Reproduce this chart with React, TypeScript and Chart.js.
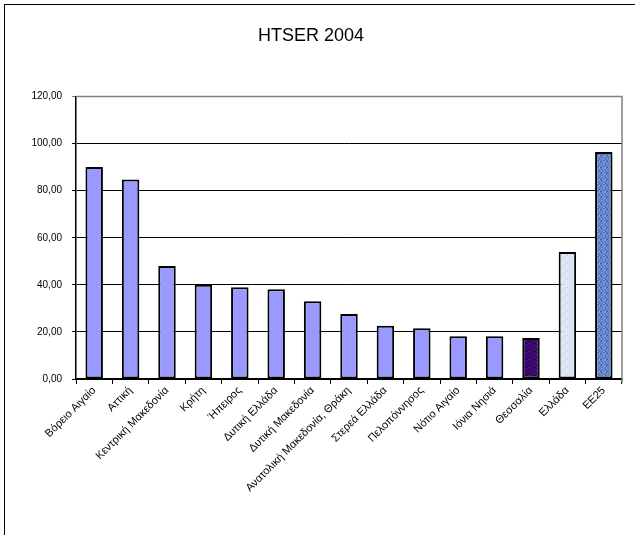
import React, { useEffect, useRef } from "react";
import { Chart, registerables } from "chart.js";

Chart.register(...registerables);

const categories = [
  "Βόρειο Αιγαίο",
  "Αττική",
  "Κεντρική Μακεδονία",
  "Κρήτη",
  "Ήπειρος",
  "Δυτική Ελλάδα",
  "Δυτική Μακεδονία",
  "Ανατολική Μακεδονία, Θράκη",
  "Στερεά Ελλάδα",
  "Πελοπόννησος",
  "Νότιο Αιγαίο",
  "Ιόνια Νησιά",
  "Θεσσαλία",
  "Ελλάδα",
  "ΕΕ25",
];

const values = [90.1, 84.8, 48.0, 40.0, 39.0, 38.1, 33.0, 27.6, 22.6, 21.6, 18.2, 18.2, 17.4, 54.0, 96.5];

const title = "HTSER 2004";
const yMax = 120;
const yStep = 20;

const FONT = "'Liberation Sans', Arial, sans-serif";

function makePattern(base: string, spots: string[], size: number) {
  const c = document.createElement("canvas");
  c.width = size;
  c.height = size;
  const ctx = c.getContext("2d")!;
  ctx.fillStyle = base;
  ctx.fillRect(0, 0, size, size);
  for (let i = 0; i < size; i++) {
    for (let j = 0; j < size; j++) {
      const k = (i * 7 + j * 13 + ((i * j) % 5)) % 9;
      if (k < spots.length) {
        ctx.fillStyle = spots[k];
        ctx.fillRect(i, j, 1, 1);
      }
    }
  }
  return ctx.createPattern(c, "repeat")!;
}

export default function App() {
  const ref = useRef<HTMLCanvasElement>(null);

  useEffect(() => {
    if (!ref.current) return;
    const defaultColor = "#9999FF";
    const thessaly = makePattern("#3a0a6e", ["#2a0055", "#4b1a80", "#300060"], 8);
    const greece = makePattern("#dfe8f8", ["#c8dcf0", "#f0dcf0", "#e8f0fc", "#d0e4f4"], 8);
    const eu = makePattern("#6f8fd0", ["#4a6cb4", "#9ab0e0", "#3d5ea8", "#5a7cc4"], 6);
    const colors = categories.map((_, i) =>
      i === 12 ? thessaly : i === 13 ? greece : i === 14 ? eu : defaultColor
    );

    const framePlugin = {
      id: "frame",
      afterDraw(chart: any) {
        const { ctx, chartArea } = chart;
        ctx.save();
        ctx.strokeStyle = "#808080";
        ctx.lineWidth = 1.5;
        ctx.beginPath();
        ctx.moveTo(chartArea.left, chartArea.top);
        ctx.lineTo(chartArea.right, chartArea.top);
        ctx.lineTo(chartArea.right, chartArea.bottom + 4);
        ctx.stroke();
        ctx.restore();
      },
    };

    const chart = new Chart(ref.current, {
      type: "bar",
      data: {
        labels: categories,
        datasets: [
          {
            data: values,
            backgroundColor: colors as any,
            borderColor: "#000000",
            borderWidth: 2,
            borderSkipped: false,
            barPercentage: 0.48,
            categoryPercentage: 1,
          },
        ],
      },
      options: {
        animation: false,
        responsive: false,
        maintainAspectRatio: false,
        layout: { padding: { left: 0, right: 13, top: 0, bottom: 0 } },
        plugins: {
          legend: { display: false },
          tooltip: { enabled: false },
          title: {
            display: true,
            text: title,
            color: "#000",
            font: { family: FONT, size: 18, weight: "normal" },
            padding: { top: 25, bottom: 50 },
          },
        },
        scales: {
          x: {
            offset: true,
            grid: {
              offset: true,
              drawOnChartArea: false,
              drawTicks: true,
              tickLength: 5,
              color: "#000",
              lineWidth: 1,
            },
            border: { color: "#000", width: 1.5 },
            ticks: {
              color: "#000",
              font: { family: FONT, size: 11 },
              minRotation: 45,
              maxRotation: 45,
              autoSkip: false,
              padding: 0,
            },
            afterFit(scale: any) {
              scale.height = 156;
            },
          },
          y: {
            min: 0,
            max: yMax,
            grid: {
              color: (ctx: any) => (ctx.tick && ctx.tick.value === yMax ? "#808080" : "#000"),
              lineWidth: 1,
              drawTicks: true,
              tickLength: 4,
            },
            border: { color: "#000", width: 1.5 },
            ticks: {
              stepSize: yStep,
              color: "#000",
              font: { family: FONT, size: 10 },
              padding: 10,
              callback: (v: any) => Number(v).toFixed(2).replace(".", ","),
            },
            afterFit(scale: any) {
              scale.width = 76;
            },
          },
        },
      },
      plugins: [framePlugin],
    });
    return () => chart.destroy();
  }, []);

  return (
    <div
      style={{
        position: "fixed",
        left: 0,
        top: 0,
        width: 635,
        height: 535,
        background: "#fff",
      }}
    >
      <canvas ref={ref} width={635} height={535} style={{ position: "absolute", left: 0, top: 0 }} />
      <div
        style={{
          position: "absolute",
          left: 4,
          top: 4,
          width: 640,
          height: 540,
          borderTop: "1.5px solid #000",
          borderLeft: "1.5px solid #000",
          pointerEvents: "none",
        }}
      />
    </div>
  );
}
